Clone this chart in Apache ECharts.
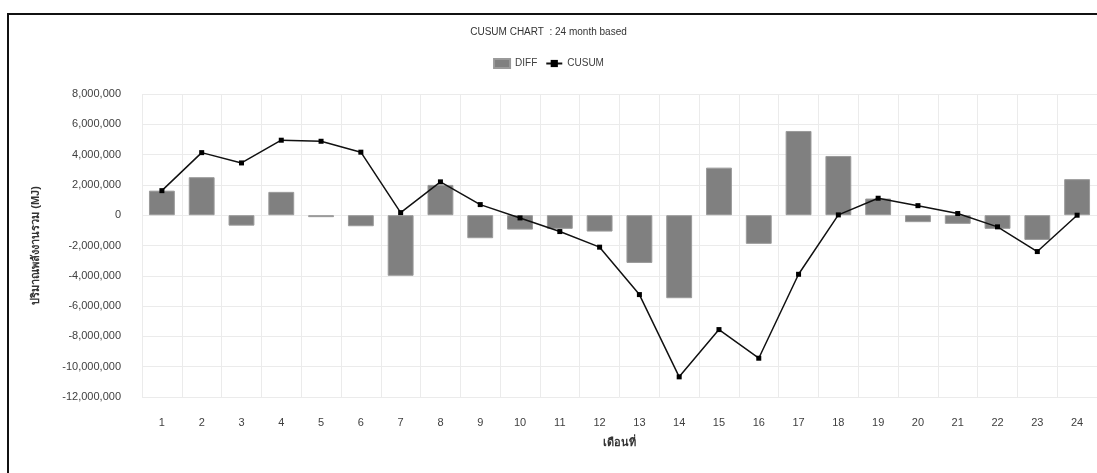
<!DOCTYPE html>
<html>
<head>
<meta charset="utf-8">
<title>CUSUM CHART</title>
<script src="https://cdn.jsdelivr.net/npm/echarts@6/dist/echarts.min.js"></script>
<style>
  html, body { margin: 0; padding: 0; background: #ffffff; }
  #chart { width: 1097px; height: 473px; }
</style>
</head>
<body>
<div id="chart"></div>
<script>
// Months 1..24
const months = ['1','2','3','4','5','6','7','8','9','10','11','12',
                '13','14','15','16','17','18','19','20','21','22','23','24'];

// Monthly difference (MJ)
const diffValues = [1620000, 2510000, -690000, 1540000, -130000, -730000, -4000000, 2000000,
                    -1520000, -950000, -900000, -1080000, -3150000, -5480000, 3140000, -1890000,
                    5560000, 3910000, 1100000, -460000, -570000, -900000, -1630000, 2380000];

// Cumulative sum (MJ)
const cusumValues = [1620000, 4130000, 3450000, 4950000, 4880000, 4160000, 170000, 2200000,
                     700000, -180000, -1080000, -2110000, -5240000, -10670000, -7550000, -9440000,
                     -3900000, 20000, 1120000, 630000, 110000, -770000, -2400000, 0];

// Value axis ticks
const yMin = -12000000;
const yMax = 8000000;
const yStep = 2000000;

const chartTitle = 'CUSUM CHART  : 24 month based';
const yName = 'ปริมาณพลังงานรวม (MJ)';
const xName = 'เดือนที่';

const font = '"Liberation Sans", Arial, "DejaVu Sans", sans-serif';

const chart = echarts.init(document.getElementById('chart'), null, { renderer: 'canvas' });

chart.setOption({
  animation: false,
  backgroundColor: '#ffffff',
  textStyle: { fontFamily: font },
  title: {
    text: chartTitle,
    left: 'center',
    top: 22,
    textStyle: { fontSize: 10, fontWeight: 'normal', color: '#333333', fontFamily: font }
  },
  legend: {
    top: 53,
    left: 'center',
    itemWidth: 16,
    itemHeight: 9,
    itemGap: 8,
    textStyle: { fontSize: 10, color: '#404040', fontFamily: font },
    data: [
      { name: 'DIFF', icon: 'rect' },
      { name: 'CUSUM' }
    ]
  },
  grid: {
    left: 142,
    width: 956,
    top: 94,
    bottom: 76,
    containLabel: false
  },
  xAxis: {
    type: 'category',
    data: months,
    boundaryGap: true,
    name: xName,
    nameLocation: 'middle',
    nameGap: 40,
    nameTextStyle: { fontSize: 11, fontWeight: 'bold', color: '#333333', fontFamily: font },
    axisLine: { show: false },
    axisTick: { show: false },
    axisLabel: { margin: 20, fontSize: 11, color: '#404040', fontFamily: font },
    splitLine: { show: true, lineStyle: { color: '#ebebeb', width: 1 } }
  },
  yAxis: {
    type: 'value',
    min: yMin,
    max: yMax,
    interval: yStep,
    name: yName,
    nameLocation: 'middle',
    nameGap: 101,
    nameRotate: 90,
    nameTextStyle: { fontSize: 11, fontWeight: 'bold', color: '#333333', fontFamily: font },
    axisLine: { show: false },
    axisTick: { show: false },
    axisLabel: {
      margin: 21,
      fontSize: 11,
      color: '#404040',
      fontFamily: font,
      formatter: v => v.toLocaleString('en-US')
    },
    splitLine: { show: true, lineStyle: { color: '#ebebeb', width: 1 } }
  },
  graphic: [
    { type: 'line', shape: { x1: 7, y1: 14, x2: 1097, y2: 14 }, style: { stroke: '#111111', lineWidth: 2 } },
    { type: 'line', shape: { x1: 8, y1: 14, x2: 8, y2: 473 }, style: { stroke: '#111111', lineWidth: 2 } }
  ],
  series: [
    {
      name: 'DIFF',
      type: 'bar',
      data: diffValues,
      barWidth: '65%',
      itemStyle: { color: '#808080', borderColor: '#9a9a9a', borderWidth: 1 }
    },
    {
      name: 'CUSUM',
      type: 'line',
      data: cusumValues,
      symbol: 'rect',
      symbolSize: 5,
      lineStyle: { color: '#111111', width: 1.5 },
      itemStyle: { color: '#000000' },
      z: 5
    }
  ]
});
</script>
</body>
</html>
